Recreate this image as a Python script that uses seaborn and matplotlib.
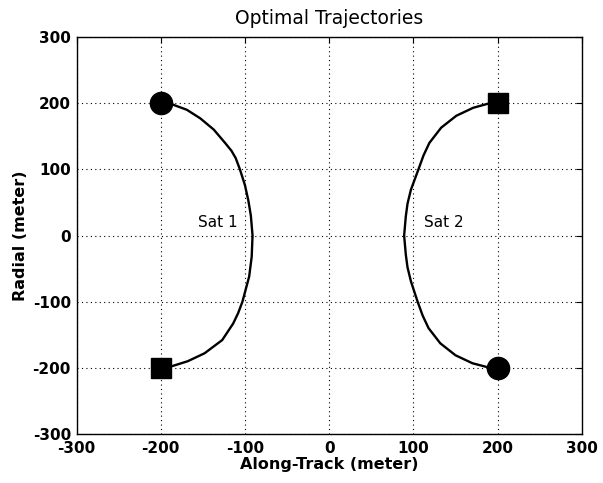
import matplotlib
matplotlib.use("Agg")
import matplotlib.pyplot as plt
import seaborn as sns
import pandas as pd

sns.set_style("white")
plt.rcParams['font.family'] = ['DejaVu Sans']
plt.rcParams['axes.unicode_minus'] = False
plt.rcParams['text.color'] = 'black'
plt.rcParams['axes.labelcolor'] = 'black'
plt.rcParams['xtick.color'] = 'black'
plt.rcParams['ytick.color'] = 'black'

# Sat 1 trajectory (along-track x, radial y)
sat1_x = [-200, -186, -169, -153, -137, -123, -116, -111, -106, -100, -96, -93, -91,
          -92, -95, -103, -108, -114, -127, -148, -168, -188, -200]
sat1_y = [200, 198, 190, 177, 160, 139, 128, 117, 100, 76, 53, 30, 0,
          -32, -62, -100, -117, -133, -158, -178, -190, -198, -200]
# Sat 2 trajectory
sat2_x = [200, 188, 171, 151, 133, 119, 112, 106, 97, 93, 91, 89,
          91, 93, 97, 105, 111, 118, 132, 150, 170, 188, 200]
sat2_y = [200, 199, 193, 181, 163, 140, 121, 100, 69, 48, 29, 0,
          -29, -48, -69, -100, -121, -140, -163, -181, -193, -199, -200]

circle_x = [-200, 200]
circle_y = [200, -200]
square_x = [200, -200]
square_y = [200, -200]

labels = ["Sat 1", "Sat 2"]
label_x = [-132, 136]
label_y = [20, 20]

ticks = [-300, -200, -100, 0, 100, 200, 300]

fig = plt.figure(figsize=(6.03, 4.83), dpi=100)
ax = fig.add_axes([0.1269, 0.1014, 0.838, 0.822])

df1 = pd.DataFrame({"x": sat1_x, "y": sat1_y})
df2 = pd.DataFrame({"x": sat2_x, "y": sat2_y})
sns.lineplot(data=df1, x="x", y="y", sort=False, estimator=None, color="black", lw=1.7, ax=ax)
sns.lineplot(data=df2, x="x", y="y", sort=False, estimator=None, color="black", lw=1.7, ax=ax)

ax.plot(circle_x, circle_y, 'o', color='black', markersize=16, zorder=5)
ax.plot(square_x, square_y, 's', color='black', markersize=14.5, zorder=5)

for t, x, y in zip(labels, label_x, label_y):
    ax.text(x, y, t, fontsize=11, ha='center', va='center', color='black')

ax.set_xlim(-300, 300)
ax.set_ylim(-300, 300)
ax.set_xticks(ticks)
ax.set_yticks(ticks)
ax.grid(True, linestyle=(0, (1, 3)), color='black', linewidth=0.8)
ax.tick_params(direction='in', top=True, right=True, length=4, width=0.8, labelsize=11,
               color='black', labelcolor='black')
ax.tick_params(axis='x', pad=5)
ax.tick_params(axis='y', pad=4)
for lab in ax.get_xticklabels() + ax.get_yticklabels():
    lab.set_fontweight('bold')
for s in ax.spines.values():
    s.set_color('black')
    s.set_linewidth(1.0)

ax.set_xlabel("Along-Track (meter)", fontsize=11.5, fontweight='bold', labelpad=1, color='black')
ax.set_ylabel("Radial (meter)", fontsize=11.5, fontweight='bold', labelpad=3, color='black')
ax.set_title("Optimal Trajectories", fontsize=13.5, pad=9, color='black')

fig.savefig("out.png", dpi=100)
